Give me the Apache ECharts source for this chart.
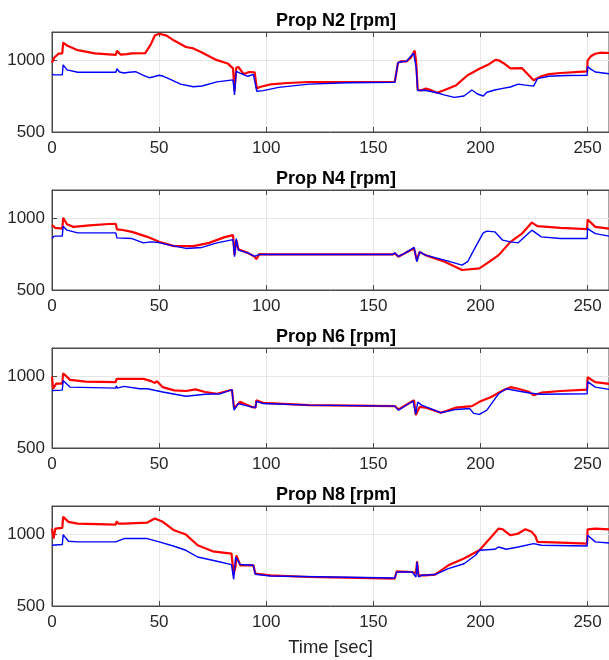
<!DOCTYPE html>
<html>
<head>
<meta charset="utf-8">
<script src="https://cdn.jsdelivr.net/npm/echarts@6/dist/echarts.min.js"></script>
<style>
  html, body { margin: 0; padding: 0; background: #fff; }
  #main { width: 609px; height: 660px; }
</style>
</head>
<body>
<div id="main"></div>
<script>
// panel titles and axis ticks
var titles = ['Prop N2 [rpm]', 'Prop N4 [rpm]', 'Prop N6 [rpm]', 'Prop N8 [rpm]'];
var xTicks = [0, 50, 100, 150, 200, 250];
var yTicks = [500, 1000];

// [time sec, rpm]; red = first signal, blue = second
var n2Red = [[0,985],[1,1020],[3,1048],[4.8,1050],[5.2,1126],[7,1105],[12,1073],[20,1050],[29.8,1040],[30.3,1068],[31,1060],[32,1042],[35,1045],[37,1050],[43.5,1052],[46,1110],[48,1175],[50,1188],[53.5,1175],[57,1140],[62.5,1095],[66,1085],[70,1057],[74,1025],[77,1003],[82,980],[84.5,945],[85.2,790],[86,950],[87,955],[89.5,905],[92,920],[94.6,918],[95.6,805],[97,815],[102,833],[110,843],[120,850],[160,850],[161.5,985],[163,995],[165.5,995],[167.5,1020],[169.3,1070],[170,990],[170.7,795],[172.5,792],[174.5,805],[176.5,795],[179.7,775],[183,792],[188.7,828],[194,897],[199.5,943],[204,975],[207,1005],[208.5,1002],[211,980],[214,945],[219.4,947],[224.8,862],[225.7,852],[228.4,890],[232,905],[237.4,913],[249.8,924],[250,1000],[251.5,1030],[253.6,1048],[256,1055],[260,1053]];
var n2Blue = [[0,905],[1,900],[4.8,900],[5.2,970],[7,935],[12,918],[29.8,918],[30.3,943],[31.5,920],[33.7,913],[36,918],[39,922],[42.7,897],[45.4,880],[47,885],[50,897],[52,890],[55,870],[60,835],[66,817],[70,822],[77,851],[84.5,865],[85.2,760],[86,925],[88,910],[91.4,890],[94,903],[94.6,900],[95.6,785],[98.6,790],[105.8,812],[120,835],[138,845],[160,848],[161.5,985],[163,992],[165.5,995],[167.5,1030],[168.8,1052],[169.5,1045],[170,950],[170.7,790],[174,792],[179.7,775],[183,760],[187.8,742],[192.3,752],[196,794],[198.6,766],[201.3,752],[203,778],[206.7,794],[210.4,805],[214,815],[217.6,835],[221,828],[224.8,821],[226.6,874],[232,890],[240,895],[249.8,897],[250,959],[251.5,940],[253.6,920],[260,908]];

var n4Red = [[0,955],[0.5,965],[1.5,935],[4.8,930],[5.2,1005],[7,960],[10,942],[17.5,953],[26.5,962],[29.8,963],[30.3,925],[33,920],[37.3,907],[44.5,872],[50,837],[57,807],[66,807],[73.4,830],[80.6,870],[84.5,884],[85.2,745],[86,850],[87,785],[91.4,760],[94.6,733],[95.4,716],[96.8,751],[102,749],[159,749],[160,756],[161.7,733],[165,760],[169,790],[170.3,709],[171.6,767],[174.3,744],[183.3,698],[191.4,640],[199.5,651],[203,686],[208.5,744],[214,837],[219.4,895],[224,972],[226.6,947],[237.4,935],[249.8,926],[250,993],[253.6,942],[260,930]];
var n4Blue = [[0,860],[1,877],[4.8,877],[5.2,947],[7,919],[12,900],[29.8,900],[30.3,865],[37.3,860],[42.7,830],[46,837],[50,832],[55,814],[62.5,791],[70,798],[77,830],[84.5,853],[85.2,733],[86,860],[87,779],[91.4,760],[94.6,735],[95.4,721],[96.8,749],[102,749],[159,749],[160,760],[161.7,735],[165,760],[167,779],[169,798],[170.3,698],[171.6,767],[174.3,744],[183.3,709],[191.4,674],[194,698],[197.7,802],[201.3,900],[203,912],[206.7,907],[210.4,849],[214,837],[217.6,830],[224,919],[228.4,872],[237.4,860],[249.8,860],[250,930],[253.6,895],[260,877]];

var n6Red = [[0,1000],[0.5,915],[2,950],[4.8,950],[5.2,1023],[8.5,977],[15.7,965],[29.7,961],[30.2,984],[37.3,984],[42.7,984],[46.3,968],[48,955],[49,968],[51.7,926],[57,903],[62.5,899],[67,910],[71.5,892],[77,880],[84,908],[85,776],[87.7,823],[93,788],[95,783],[95.4,834],[98.6,816],[120,800],[160,793],[161.7,770],[169,834],[169.8,730],[171.6,788],[174.3,783],[181.5,747],[188.7,783],[196,793],[199.5,823],[205,857],[210.4,903],[214,926],[217.6,915],[222.9,892],[224.8,869],[228.4,887],[237.4,899],[249.8,908],[250,995],[253.6,961],[260,949]];
var n6Blue = [[0,903],[4.8,905],[5.2,972],[8.5,926],[29.7,919],[30,935],[30.5,919],[33.5,931],[41,915],[44.5,915],[51.7,892],[62.5,862],[71.5,876],[78.7,880],[84,908],[85,765],[86.9,811],[93,788],[95,783],[95.4,827],[98.6,811],[120,800],[160,793],[161.7,765],[168.5,829],[169.8,737],[170.7,822],[172.5,800],[181.5,747],[188.7,770],[195,776],[196.8,742],[199.5,735],[203,765],[208.5,880],[212,915],[217.6,899],[222.9,885],[225.7,880],[228.4,876],[249.8,880],[250,965],[253.6,926],[260,910]];

var n8Red = [[0,1042],[0.7,972],[1.6,1042],[4.8,1047],[5.2,1124],[7.7,1089],[12,1077],[29.7,1070],[30.2,1093],[31,1077],[33.7,1077],[44.5,1084],[48,1112],[51.7,1089],[57,1030],[62.5,1000],[68,925],[75,883],[83.8,867],[84.8,720],[85.7,780],[86.1,855],[87.9,785],[94,785],[94.9,727],[102,715],[120,703],[160,692],[160.9,743],[168.1,738],[169.9,731],[170.4,813],[171.1,715],[174.3,715],[178.8,720],[185,785],[192.3,832],[199.5,890],[205,983],[208.5,1042],[210.4,1037],[214,995],[217.6,1007],[221,1037],[223.9,1019],[225.7,988],[226.6,949],[237.4,944],[249.8,937],[250,1037],[253.6,1042],[260,1037]];
var n8Blue = [[0,925],[4.8,930],[5.2,1000],[7.7,953],[12,949],[29.7,949],[33.7,972],[44.5,972],[50,949],[57,918],[62.5,890],[68,843],[77,813],[83.8,790],[84.8,687],[85.7,843],[87.9,790],[94,785],[94.9,722],[102,710],[160,696],[160.9,738],[168.1,738],[169.9,703],[170.4,808],[171.1,703],[172.5,715],[178.8,720],[185,762],[192.3,796],[197.7,855],[199.5,890],[206.7,897],[208.5,913],[212,897],[217.6,913],[224.8,937],[225.7,949],[228.4,925],[249.8,920],[250,995],[253.6,949],[260,941]];

var redSets = [n2Red, n4Red, n6Red, n8Red];
var blueSets = [n2Blue, n4Blue, n6Blue, n8Blue];

var chart = echarts.init(document.getElementById('main'));
var font = 'Liberation Sans, Arial, Helvetica, sans-serif';
var tops = [32, 190, 348, 506];
var grids = [], xAxes = [], yAxes = [], series = [], titleList = [];

tops.forEach(function (top, i) {
    grids.push({
        left: 52, top: top, width: 560, height: 100,
        show: true, borderColor: '#4a4a4a', borderWidth: 1
    });
    titleList.push({
        text: titles[i],
        left: 331, top: top - 25, textAlign: 'center',
        textStyle: { fontFamily: font, fontSize: 18, fontWeight: 'bold', color: '#000' }
    });
    // bottom axis
    xAxes.push({
        type: 'value', gridIndex: i, min: 0, max: 260, interval: 50,
        axisLine: { show: true, lineStyle: { color: '#4a4a4a', width: 1 } },
        axisTick: { show: true, inside: true, length: 5, lineStyle: { color: '#4a4a4a' } },
        axisLabel: {
            color: '#262626', fontFamily: font, fontSize: 17, margin: 8,
            showMaxLabel: false,
            formatter: function (v) { return xTicks.indexOf(v) >= 0 ? String(v) : ''; }
        },
        splitLine: { show: true, lineStyle: { color: '#e6e6e6', width: 1 } },
        name: i === 3 ? 'Time [sec]' : '',
        nameLocation: 'middle', nameGap: 32,
        nameTextStyle: { color: '#262626', fontFamily: font, fontSize: 18.5 }
    });
    yAxes.push({
        type: 'value', gridIndex: i, min: 500, max: 1200, interval: 500,
        axisLine: { show: true, lineStyle: { color: '#4a4a4a', width: 1 } },
        axisTick: { show: true, inside: true, length: 5, lineStyle: { color: '#4a4a4a' } },
        axisLabel: {
            color: '#262626', fontFamily: font, fontSize: 17, margin: 7,
            showMaxLabel: false,
            formatter: function (v) { return yTicks.indexOf(v) >= 0 ? String(v) : ''; }
        },
        splitLine: { show: true, lineStyle: { color: '#e6e6e6', width: 1 } }
    });
    series.push({
        type: 'line', xAxisIndex: i, yAxisIndex: i, data: redSets[i],
        showSymbol: false, silent: true,
        lineStyle: { color: '#ff0000', width: 2.2 }
    });
    series.push({
        type: 'line', xAxisIndex: i, yAxisIndex: i, data: blueSets[i],
        showSymbol: false, silent: true,
        lineStyle: { color: '#0000ff', width: 1.4 }
    });
});

// top axes, ticks only, to mimic the boxed axes
tops.forEach(function (top, i) {
    xAxes.push({
        type: 'value', gridIndex: i, position: 'top', min: 0, max: 260, interval: 50,
        axisLine: { show: true, lineStyle: { color: '#4a4a4a', width: 1 } },
        axisTick: { show: true, inside: true, length: 5, lineStyle: { color: '#4a4a4a' } },
        axisLabel: { show: false },
        splitLine: { show: false }
    });
});

chart.setOption({
    animation: false,
    backgroundColor: '#ffffff',
    title: titleList,
    grid: grids,
    xAxis: xAxes,
    yAxis: yAxes,
    series: series
});
window.addEventListener('resize', function () { chart.resize(); });
</script>
</body>
</html>
